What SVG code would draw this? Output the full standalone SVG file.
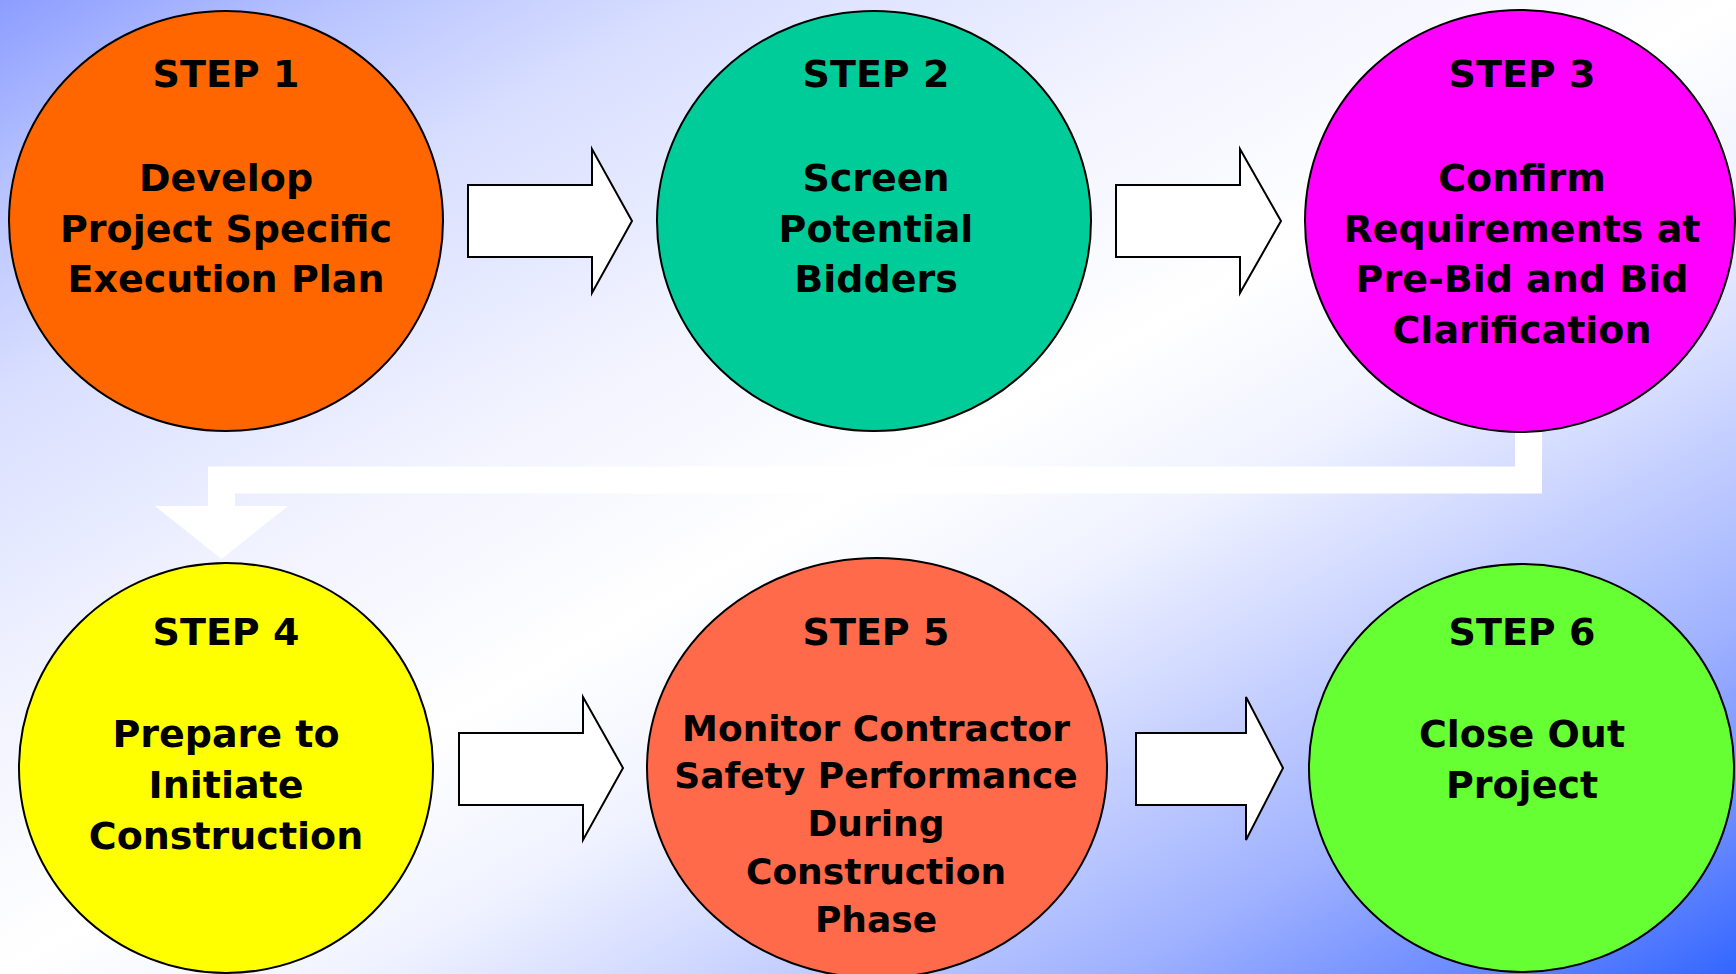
<svg xmlns="http://www.w3.org/2000/svg" width="1736" height="974" viewBox="0 0 1736 974">
<defs>
<linearGradient id="bg" x1="0" y1="0" x2="1" y2="1">
<stop offset="0" stop-color="#8C9DFF"/>
<stop offset="0.1" stop-color="#B8C4FF"/>
<stop offset="0.2" stop-color="#D8DEFF"/>
<stop offset="0.35" stop-color="#F0F2FF"/>
<stop offset="0.5" stop-color="#FFFFFF"/>
<stop offset="0.6" stop-color="#F0F3FF"/>
<stop offset="0.67" stop-color="#D8DFFF"/>
<stop offset="0.82" stop-color="#A0B2FF"/>
<stop offset="0.92" stop-color="#6A8AFF"/>
<stop offset="1" stop-color="#3366FF"/>
</linearGradient>
</defs>
<style>
.node ellipse{stroke:#000;stroke-width:2}
.node text{font-family:"DejaVu Sans","Liberation Sans",sans-serif;font-weight:bold;font-size:38px;fill:#000;text-anchor:middle}
.node text.sm{font-size:36px}
.arrow{fill:#fff;stroke:#000;stroke-width:2;stroke-linejoin:miter}
.wire{fill:none;stroke:#fff;stroke-width:27;stroke-linejoin:miter}
</style>
<rect x="0" y="0" width="1736" height="974" fill="url(#bg)"/>
<g id="connectors">
<polygon class="arrow" points="468,185 592,185 592,149 632,221 592,293 592,257 468,257"/>
<polygon class="arrow" points="1116,185 1240,185 1240,149 1281,221 1240,293 1240,257 1116,257"/>
<polygon class="arrow" points="459,733 583,733 583,697 623,768 583,840 583,805 459,805"/>
<polygon class="arrow" points="1136,733 1246,733 1246,697 1283,768 1246,840 1246,805 1136,805"/>
<polyline class="wire" points="1528.5,420 1528.5,480 221.5,480 221.5,507"/>
<polygon fill="#fff" points="155,506 288,506 221.5,559"/>
</g>
<g id="step1" class="node">
<ellipse cx="226" cy="221" rx="217" ry="210" fill="#FF6600"/>
<text x="226" y="87">STEP 1</text>
<text x="226" y="191">Develop</text>
<text x="226" y="241.5">Project Specific</text>
<text x="226" y="292">Execution Plan</text>
</g>
<g id="step2" class="node">
<ellipse cx="874" cy="221" rx="217" ry="210" fill="#00CC99"/>
<text x="876" y="87">STEP 2</text>
<text x="876" y="191">Screen</text>
<text x="876" y="241.5">Potential</text>
<text x="876" y="292">Bidders</text>
</g>
<g id="step3" class="node">
<ellipse cx="1520" cy="221" rx="215" ry="211" fill="#FF00FF"/>
<text x="1522" y="87">STEP 3</text>
<text x="1522" y="191">Confirm</text>
<text x="1522" y="241.5">Requirements at</text>
<text x="1522" y="292">Pre-Bid and Bid</text>
<text x="1522" y="343">Clarification</text>
</g>
<g id="step4" class="node">
<ellipse cx="226" cy="768" rx="207" ry="205" fill="#FFFF00"/>
<text x="226" y="645">STEP 4</text>
<text x="226" y="747">Prepare to</text>
<text x="226" y="798">Initiate</text>
<text x="226" y="849">Construction</text>
</g>
<g id="step5" class="node">
<ellipse cx="877" cy="768" rx="230" ry="210" fill="#FF6A4A"/>
<text x="876" y="645">STEP 5</text>
<text class="sm" x="876" y="741">Monitor Contractor</text>
<text class="sm" x="876" y="788">Safety Performance</text>
<text class="sm" x="876" y="836">During</text>
<text class="sm" x="876" y="884">Construction</text>
<text class="sm" x="876" y="932">Phase</text>
</g>
<g id="step6" class="node">
<ellipse cx="1521.5" cy="768" rx="212.5" ry="204" fill="#66FF33"/>
<text x="1522" y="645">STEP 6</text>
<text x="1522" y="747">Close Out</text>
<text x="1522" y="798">Project</text>
</g>
</svg>
